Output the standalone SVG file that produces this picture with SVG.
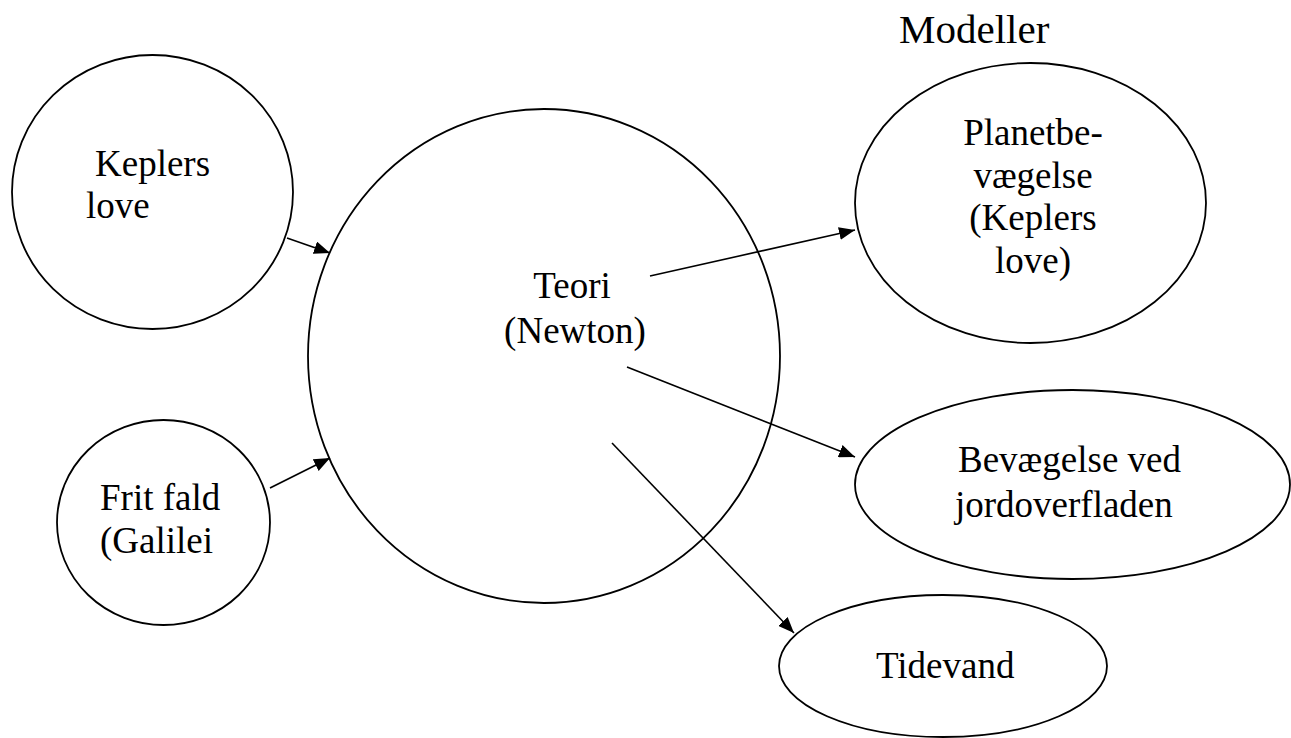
<svg xmlns="http://www.w3.org/2000/svg" width="1291" height="738" viewBox="0 0 1291 738">
  <style>
    .node { fill: none; stroke: #000; stroke-width: 1.8; }
    .label { font-family: "Liberation Serif", "Times New Roman", serif; font-size: 37px; fill: #000; }
    .title { font-family: "Liberation Serif", "Times New Roman", serif; font-size: 41px; fill: #000; }
    .edge { stroke: #000; stroke-width: 1.6; fill: none; marker-end: url(#arrow); }
  </style>
  <defs>
    <marker id="arrow" markerUnits="userSpaceOnUse" markerWidth="16" markerHeight="13" refX="16" refY="6.5" orient="auto">
      <path d="M0,0 L16,6.5 L0,13 z" fill="#000"/>
    </marker>
  </defs>
  <rect width="1291" height="738" fill="#fff"/>

  <text class="title" x="899" y="43">Modeller</text>

  <g id="keplers">
    <ellipse class="node" cx="152.5" cy="192" rx="140.5" ry="137"/>
    <text class="label" x="95" y="176">Keplers</text>
    <text class="label" x="86" y="218">love</text>
  </g>

  <g id="frit-fald">
    <ellipse class="node" cx="163.5" cy="522.5" rx="106.5" ry="102.5"/>
    <text class="label" x="100" y="510">Frit fald</text>
    <text class="label" x="100" y="553">(Galilei</text>
  </g>

  <g id="teori">
    <ellipse class="node" cx="544" cy="356" rx="236" ry="247"/>
    <text class="label" x="572" y="298" text-anchor="middle">Teori</text>
    <text class="label" x="575" y="343" text-anchor="middle">(Newton)</text>
  </g>

  <g id="planetbevaegelse">
    <ellipse class="node" cx="1030.5" cy="203" rx="175.5" ry="140"/>
    <text class="label" x="1033" y="145" text-anchor="middle">Planetbe-</text>
    <text class="label" x="1033" y="188" text-anchor="middle">vægelse</text>
    <text class="label" x="1033" y="230" text-anchor="middle">(Keplers</text>
    <text class="label" x="1033" y="273" text-anchor="middle">love)</text>
  </g>

  <g id="jordoverfladen">
    <ellipse class="node" cx="1072.5" cy="484.5" rx="217.5" ry="94.5"/>
    <text class="label" x="958" y="472">Bevægelse ved</text>
    <text class="label" x="955" y="517">jordoverfladen</text>
  </g>

  <g id="tidevand">
    <ellipse class="node" cx="943" cy="666" rx="164" ry="71"/>
    <text class="label" x="876" y="678">Tidevand</text>
  </g>

  <g id="connectors">
    <line class="edge" x1="287" y1="238" x2="330" y2="253"/>
    <line class="edge" x1="270" y1="488" x2="330" y2="458"/>
    <line class="edge" x1="650" y1="276" x2="855" y2="230"/>
    <line class="edge" x1="627" y1="367" x2="855" y2="457"/>
    <line class="edge" x1="612" y1="443" x2="794" y2="633"/>
  </g>
</svg>
